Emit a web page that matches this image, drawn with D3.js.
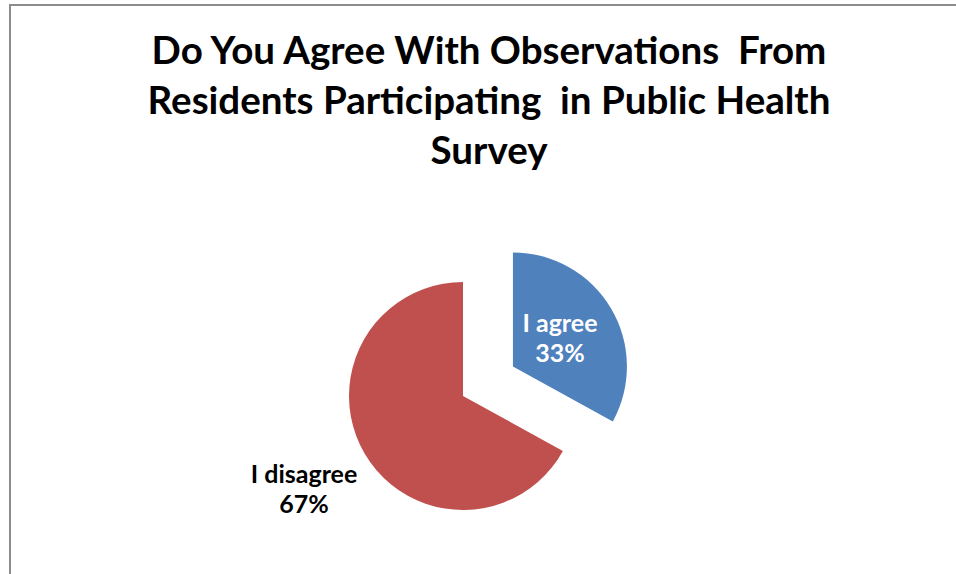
<!DOCTYPE html>
<html>
<head>
<meta charset="utf-8">
<script src="https://cdn.jsdelivr.net/npm/d3@7"></script>
<style>
  html, body { margin: 0; padding: 0; background: #ffffff; }
  svg { display: block; }
  text { font-family: Lato, "Open Sans", "DejaVu Sans", sans-serif; font-weight: bold; }
</style>
</head>
<body>
<svg id="chart" width="956" height="574"></svg>
<script>
// ---- Data ----
const categories = ["I agree", "I disagree"];
const values = [33, 67];
const percentLabels = ["33%", "67%"];
const colors = ["#4F81BD", "#C0504D"];
const exploded = [true, false];
const titleLines = [
  "Do You Agree With Observations  From",
  "Residents Participating  in Public Health",
  "Survey"
];

// ---- Layout ----
const W = 956, H = 574;
const svg = d3.select("#chart");

// chart area border (extends beyond the visible window on right and bottom)
svg.append("rect")
  .attr("x", 10).attr("y", 5)
  .attr("width", 1000).attr("height", 1000)
  .attr("fill", "#ffffff")
  .attr("stroke", "#8c8c8c")
  .attr("stroke-width", 2);

// title
const titleCx = 489;
const tl = svg.append("g").selectAll("text")
  .data(titleLines)
  .enter().append("text")
  .attr("x", titleCx)
  .attr("y", (d, i) => 64 + i * 50)
  .attr("text-anchor", "middle")
  .attr("fill", "#000000")
  .style("white-space", "pre")
  .attr("font-size", 40)
  .text(d => d);
// fit the font size to the reference line width
const l2 = tl.filter((d, i) => i === 1).node().getComputedTextLength();
tl.attr("font-size", 40 * 683 / l2);

// pie
const cx = 463, cy = 396, r = 114, explode = 58;
const pie = d3.pie().sort(null).value(d => d)(values);
const arc = d3.arc().innerRadius(0).outerRadius(r);

const slices = svg.append("g")
  .attr("transform", `translate(${cx},${cy})`)
  .selectAll("g.slice")
  .data(pie)
  .enter().append("g")
  .attr("class", "slice")
  .attr("transform", (d, i) => {
    if (!exploded[i]) return null;
    const a = (d.startAngle + d.endAngle) / 2;
    return `translate(${explode * Math.sin(a)},${-explode * Math.cos(a)})`;
  });

slices.append("path")
  .attr("d", arc)
  .attr("fill", (d, i) => colors[i]);

// labels
const labelFs = 25;
slices.each(function (d, i) {
  const a = (d.startAngle + d.endAngle) / 2;
  const inside = exploded[i];
  const lr = inside ? r * 0.48 : r * 1.62;
  const lx = lr * Math.sin(a);
  const ly = -lr * Math.cos(a);
  const t = d3.select(this).append("text")
    .attr("text-anchor", "middle")
    .attr("font-size", labelFs)
    .attr("fill", inside ? "#ffffff" : "#000000");
  t.append("tspan").attr("x", lx).attr("y", ly - 7).text(categories[i]);
  t.append("tspan").attr("x", lx).attr("y", ly + 23).text(percentLabels[i]);
});
</script>
</body>
</html>
